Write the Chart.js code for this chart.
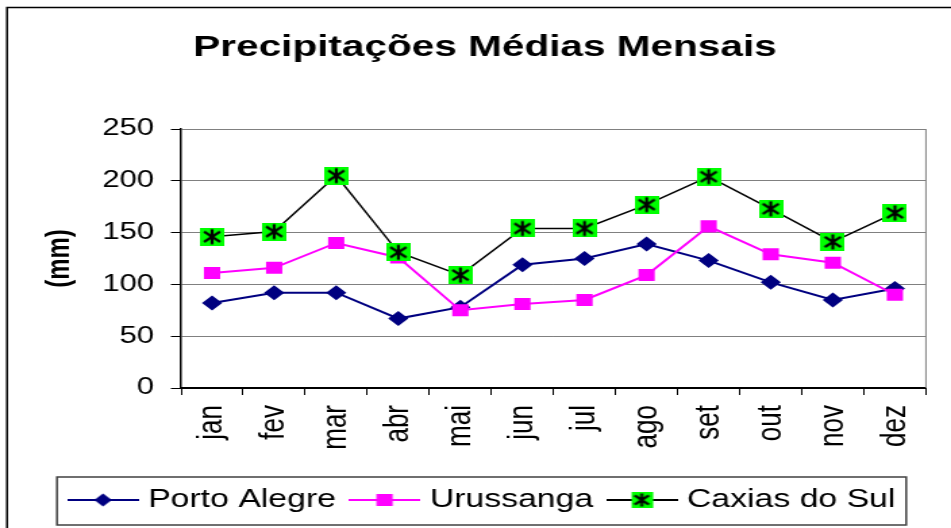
<!DOCTYPE html>
<html>
<head>
<meta charset="utf-8">
<script src="https://cdn.jsdelivr.net/npm/chart.js@4"></script>
<style>
  html, body { margin: 0; padding: 0; background: #fff; overflow: hidden; }
  /* the reference is stretched sideways, so the chart is drawn narrow and widened */
  #wrap { width: 704px; height: 528px; transform: scaleX(1.3509); transform-origin: 0 0; }
</style>
</head>
<body>
<div id="wrap"><canvas id="chart"></canvas></div>
<script>
const months = ['jan', 'fev', 'mar', 'abr', 'mai', 'jun', 'jul', 'ago', 'set', 'out', 'nov', 'dez'];
const portoAlegre = [82, 92, 92, 67, 78, 119, 125, 139, 123, 102, 85, 96];
const urussanga = [111, 116, 140, 126, 75, 81, 85, 109, 156, 129, 121, 90];
const caxiasDoSul = [146, 151, 205, 131, 109, 154, 154, 177, 204, 173, 141, 169];
const yTicks = [0, 50, 100, 150, 200, 250];

const FONT = "'Liberation Sans', Arial, sans-serif";

function starMarker(size) {
    const c = document.createElement('canvas');
    c.width = size; c.height = size;
    const g = c.getContext('2d');
    g.fillStyle = '#00ff00';
    g.fillRect(0, 0, size, size);
    g.strokeStyle = '#000';
    g.lineWidth = 2.2;
    const m = size / 2, a = size * 0.41;
    g.beginPath();
    g.moveTo(m, m - a); g.lineTo(m, m + a);
    g.moveTo(m - a * 0.8, m - a * 0.7); g.lineTo(m + a * 0.8, m + a * 0.7);
    g.moveTo(m + a * 0.8, m - a * 0.7); g.lineTo(m - a * 0.8, m + a * 0.7);
    g.stroke();
    return c;
}

// legend icon: short line with the marker in the middle
function legendIcon(color, kind) {
    const c = document.createElement('canvas');
    c.width = 53; c.height = 20;
    const g = c.getContext('2d');
    g.strokeStyle = color;
    g.lineWidth = 2;
    g.beginPath();
    g.moveTo(0, 10); g.lineTo(53, 10);
    g.stroke();
    g.fillStyle = color;
    if (kind === 'diamond') {
        g.beginPath();
        g.moveTo(26.5 - 6.5, 10); g.lineTo(26.5, 3.5); g.lineTo(33, 10); g.lineTo(26.5, 16.5);
        g.closePath(); g.fill();
    } else if (kind === 'square') {
        g.fillRect(20.5, 4, 12, 12);
    } else {
        g.drawImage(starMarker(16), 18.5, 2);
    }
    return c;
}

const caxiasMarker = starMarker(18);
const icons = [
    legendIcon('#000080', 'diamond'),
    legendIcon('#ff00ff', 'square'),
    legendIcon('#000000', 'star')
];

const framePlugin = {
    id: 'frame',
    beforeDraw(chart) {
        const ctx = chart.ctx;
        ctx.save();
        ctx.fillStyle = '#fff';
        ctx.fillRect(0, 0, chart.width, chart.height);
        ctx.strokeStyle = '#000';
        ctx.lineWidth = 1.5;
        ctx.strokeRect(5.2, 7.5, chart.width + 40, chart.height + 40);
        ctx.restore();
    },
    beforeDatasetsDraw(chart) {
        const {ctx, chartArea} = chart;
        ctx.save();
        ctx.strokeStyle = '#808080';
        ctx.lineWidth = 1;
        ctx.beginPath();
        ctx.moveTo(chartArea.right, chartArea.top);
        ctx.lineTo(chartArea.right, chartArea.bottom);
        ctx.stroke();
        ctx.restore();
    },
    afterDraw(chart) {
        const boxes = chart.legend.legendHitBoxes;
        if (!boxes || !boxes.length) return;
        const first = boxes[0], last = boxes[boxes.length - 1];
        const left = first.left - 13;
        const right = last.left + last.width + 8;
        const mid = first.top + first.height / 2;
        const ctx = chart.ctx;
        ctx.save();
        ctx.strokeStyle = '#404040';
        ctx.lineWidth = 1.5;
        ctx.strokeRect(left, mid - 23, right - left, 48);
        ctx.restore();
    }
};

new Chart(document.getElementById('chart'), {
    type: 'line',
    data: {
        labels: months,
        datasets: [{
            label: 'Porto Alegre',
            data: portoAlegre,
            borderColor: '#000080',
            backgroundColor: '#000080',
            borderWidth: 2,
            pointStyle: 'rectRot',
            pointRadius: 7.5,
            pointBorderWidth: 0,
            order: 3
        }, {
            label: 'Urussanga',
            data: urussanga,
            borderColor: '#ff00ff',
            backgroundColor: '#ff00ff',
            borderWidth: 2,
            pointStyle: 'rect',
            pointRadius: 8.5,
            pointBorderWidth: 0,
            order: 2
        }, {
            label: 'Caxias do Sul',
            data: caxiasDoSul,
            borderColor: '#000000',
            backgroundColor: '#00ff00',
            borderWidth: 1.5,
            pointStyle: caxiasMarker,
            order: 1
        }]
    },
    options: {
        responsive: true,
        maintainAspectRatio: false,
        animation: false,
        events: [],
        layout: { padding: { left: 22, right: 8, top: 0, bottom: 5.5 } },
        plugins: {
            title: {
                display: true,
                text: 'Precipitações Médias Mensais',
                color: '#000',
                font: { family: FONT, size: 30, weight: 'bold' },
                padding: { top: 30, bottom: 63 }
            },
            legend: {
                position: 'bottom',
                labels: {
                    usePointStyle: true,
                    pointStyleWidth: 42,
                    padding: 15,
                    color: '#000',
                    font: { family: FONT, size: 25 },
                    generateLabels: chart => chart.data.datasets.map((ds, i) => ({
                        text: ds.label,
                        pointStyle: icons[i],
                        fillStyle: ds.borderColor,
                        strokeStyle: ds.borderColor,
                        lineWidth: 0,
                        hidden: false,
                        datasetIndex: i,
                        fontColor: '#000'
                    }))
                }
            },
            tooltip: { enabled: false }
        },
        scales: {
            x: {
                offset: true,
                grid: {
                    offset: true,
                    drawOnChartArea: false,
                    tickLength: 7,
                    tickColor: '#000'
                },
                border: { color: '#000', width: 2 },
                ticks: {
                    minRotation: 90,
                    maxRotation: 90,
                    padding: 10,
                    color: '#000',
                    font: { family: FONT, size: 26 }
                },
                afterFit(scale) { scale.height = 84.5; }
            },
            y: {
                min: 0,
                max: 250,
                afterBuildTicks(scale) { scale.ticks = yTicks.map(v => ({ value: v })); },
                grid: {
                    color: '#808080',
                    tickColor: '#000',
                    tickLength: 7.5
                },
                border: { color: '#000', width: 1.5 },
                ticks: {
                    padding: 12.5,
                    color: '#000',
                    font: { family: FONT, size: 23 }
                },
                title: {
                    display: true,
                    text: '(mm)',
                    color: '#000',
                    font: { family: FONT, size: 24, weight: 'bold' },
                    padding: { top: 7.6, bottom: 0 }
                },
                afterFit(scale) { scale.width = 112; }
            }
        }
    },
    plugins: [framePlugin]
});
</script>
</body>
</html>
